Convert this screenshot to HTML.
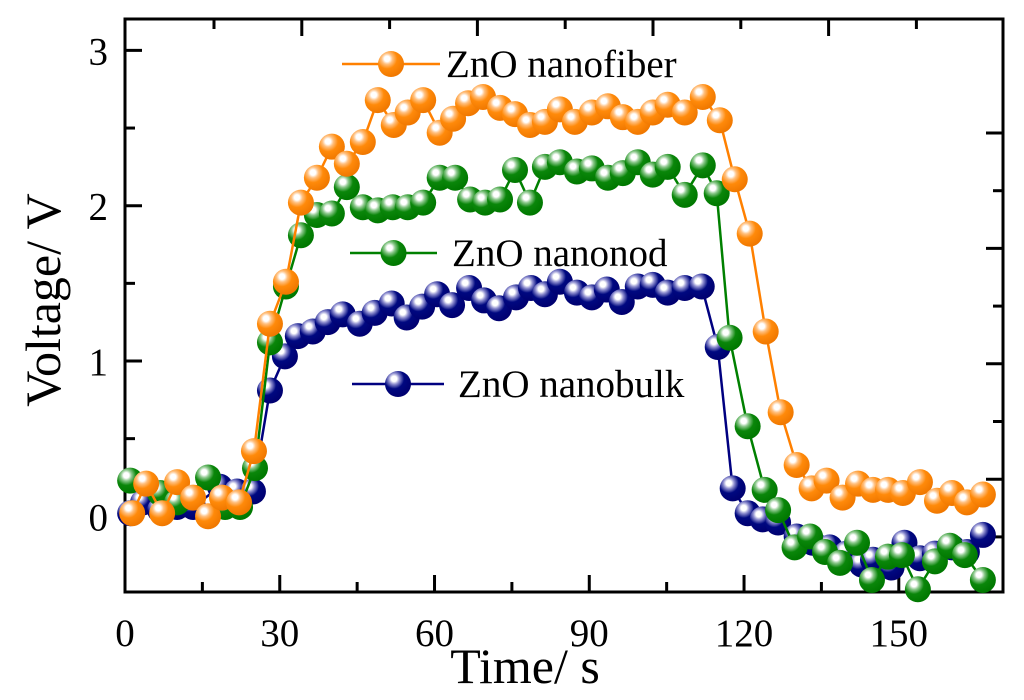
<!DOCTYPE html>
<html><head><meta charset="utf-8"><style>
html,body{margin:0;padding:0;background:#fff;}
svg{display:block;font-family:"Liberation Serif",serif;}
</style></head><body>
<svg id="chart" width="1024" height="700" viewBox="0 0 1024 700">
<defs>
<radialGradient id="gO" cx="0.35" cy="0.3" r="0.7"><stop offset="0" stop-color="#fff"/><stop offset="0.15" stop-color="#fff"/><stop offset="0.3" stop-color="#ffc080"/><stop offset="0.55" stop-color="#ff8a0a"/><stop offset="1" stop-color="#f07800"/></radialGradient>
<radialGradient id="gG" cx="0.35" cy="0.3" r="0.7"><stop offset="0" stop-color="#fff"/><stop offset="0.15" stop-color="#fff"/><stop offset="0.3" stop-color="#8cc88c"/><stop offset="0.55" stop-color="#0a860a"/><stop offset="1" stop-color="#007800"/></radialGradient>
<radialGradient id="gB" cx="0.35" cy="0.3" r="0.7"><stop offset="0" stop-color="#fff"/><stop offset="0.15" stop-color="#fff"/><stop offset="0.3" stop-color="#9090d0"/><stop offset="0.55" stop-color="#000880"/><stop offset="1" stop-color="#000070"/></radialGradient>
</defs>
</svg>
<script>
const xTicks = [0, 30, 60, 90, 120, 150];
const yTicks = [0, 1, 2, 3];
const seriesNames = ["ZnO nanobulk", "ZnO nanonod", "ZnO nanofiber"];
const bulkT = [1.0,3.5,6.8,10.1,13.2,18.4,21.7,24.8,28.1,31.0,33.5,36.4,39.3,42.2,45.5,48.4,51.7,54.6,57.6,60.5,63.4,66.7,69.6,72.5,75.8,78.7,81.4,84.3,87.6,90.5,93.4,96.3,99.4,102.3,105.2,108.5,111.8,114.9,117.8,120.7,123.6,126.6,130.2,133.3,136.6,139.9,142.8,145.0,148.6,151.1,154.1,157.0,160.3,163.2,166.3];
const bulkV = [0.02,0.09,0.04,0.06,0.06,0.19,0.16,0.16,0.81,1.03,1.16,1.19,1.25,1.30,1.24,1.31,1.37,1.28,1.35,1.43,1.36,1.47,1.39,1.34,1.41,1.47,1.43,1.51,1.44,1.41,1.46,1.38,1.48,1.49,1.44,1.47,1.48,1.09,0.18,0.02,-0.02,-0.04,-0.13,-0.17,-0.20,-0.24,-0.31,-0.28,-0.33,-0.17,-0.27,-0.24,-0.20,-0.23,-0.12];
const rodT = [1.0,6.8,10.1,16.1,19.4,22.3,25.2,28.1,31.2,34.1,37.2,40.1,43.0,46.1,49.0,51.9,54.8,57.8,61.0,64.0,66.9,69.8,72.7,75.6,78.5,81.4,84.3,87.6,90.5,93.6,96.5,99.4,102.3,105.2,108.5,112.0,114.7,117.2,120.7,124.0,126.6,129.8,132.8,135.7,138.6,141.9,144.8,147.9,150.6,153.7,157.0,159.9,162.8,166.3];
const rodV = [0.23,0.15,0.09,0.25,0.06,0.06,0.31,1.12,1.48,1.81,1.94,1.95,2.12,1.99,1.97,1.99,1.99,2.02,2.18,2.18,2.04,2.02,2.04,2.23,2.02,2.25,2.28,2.22,2.24,2.18,2.21,2.28,2.20,2.25,2.07,2.26,2.08,1.15,0.58,0.17,0.04,-0.20,-0.13,-0.23,-0.30,-0.17,-0.41,-0.26,-0.25,-0.47,-0.29,-0.19,-0.25,-0.41];
const fiberT = [1.4,4.1,7.2,10.1,13.2,16.1,18.8,22.1,25.0,28.1,31.2,34.1,37.2,40.1,43.0,46.1,49.0,52.1,54.8,57.8,61.0,63.6,66.5,69.4,72.7,75.6,78.5,81.4,84.3,87.2,90.5,93.6,96.5,99.4,102.3,105.2,108.5,112.0,115.3,118.2,121.1,124.2,127.1,130.2,133.1,136.0,139.1,142.1,145.0,147.9,150.8,154.1,157.4,160.3,163.2,166.3];
const fiberV = [0.02,0.21,0.02,0.22,0.12,0.0,0.12,0.09,0.42,1.24,1.51,2.02,2.18,2.38,2.27,2.41,2.68,2.52,2.60,2.68,2.47,2.56,2.66,2.70,2.63,2.59,2.52,2.54,2.62,2.54,2.60,2.64,2.57,2.54,2.60,2.65,2.60,2.70,2.55,2.17,1.82,1.19,0.67,0.33,0.18,0.23,0.12,0.21,0.17,0.17,0.15,0.22,0.10,0.15,0.09,0.14];

const NS = "http://www.w3.org/2000/svg";
const svg = document.getElementById("chart");
const L = 125, R = 1003, T = 19, B = 592;
const xMin = 0, xMax = 170.2;
function sx(t){ return L + (t - xMin) / (xMax - xMin) * (R - L); }
function sy(v){ return 516.3 - v * 155.3; }
function mk(tag, attrs, parent){ const e = document.createElementNS(NS, tag); for (const k in attrs) e.setAttribute(k, attrs[k]); (parent || svg).appendChild(e); return e; }

const axes = mk("g", {});


const tk = mk("g", {stroke:"#000","stroke-width":3}, axes);
xTicks.forEach(t => {
  mk("line", {x1:sx(t), y1:B, x2:sx(t), y2:B-17}, tk);
  mk("line", {x1:sx(t+15), y1:B, x2:sx(t+15), y2:B-10}, tk);
  const lb = mk("text", {x:sx(t), y:646, "text-anchor":"middle", "font-size":39}, axes);
  lb.textContent = t;
  
  
});
yTicks.forEach(v => {
  mk("line", {x1:L, y1:sy(v), x2:L+17, y2:sy(v)}, tk);
  if (v < 3) mk("line", {x1:L, y1:sy(v+0.5), x2:L+10, y2:sy(v+0.5)}, tk);
  const lb = mk("text", {x:108, y:sy(v)+14, "text-anchor":"end", "font-size":39}, axes);
  lb.textContent = v;
  
  
});
for (let i = 0; i < 9; i++) { const x = 214 + i * 87.8; mk("line", {x1:x, y1:T, x2:x, y2:T + (i % 2 ? 17 : 10)}, tk); }
for (let i = 0; i < 8; i++) { const y = 133 + i * 57.7; mk("line", {x1:R, y1:y, x2:R - (i % 2 ? 10 : 17), y2:y}, tk); }
mk("rect", {x:L, y:T, width:R-L, height:B-T, fill:"none", stroke:"#000", "stroke-width":3}, axes);

const yt = mk("text", {x:0, y:0, transform:"translate(60,300) rotate(-90)", "text-anchor":"middle", "font-size":50}, axes);
yt.textContent = "Voltage/ V";


const xt = mk("text", {x:525, y:683, "text-anchor":"middle", "font-size":50}, axes);
xt.textContent = "Time/ s";



function drawSeries(ts, vs, color, grad, name){
  const g = mk("g", {});
  
  
  const pts = ts.map((t,i) => sx(t) + "," + sy(vs[i])).join(" ");
  const pl = mk("polyline", {points:pts, fill:"none", stroke:color, "stroke-width":2.5}, g);
  
  
  ts.forEach((t,i) => {
    const c = mk("circle", {cx:sx(t), cy:sy(vs[i]), r:13, fill:"url(#" + grad + ")"}, g);
    
    
  });
}
drawSeries(bulkT, bulkV, "#000080", "gB", "nanobulk-series");
drawSeries(rodT, rodV, "#008000", "gG", "nanonod-series");
drawSeries(fiberT, fiberV, "#ff8000", "gO", "nanofiber-series");

function legend(x1, x2, y, color, grad, label, tx, name){
  const g = mk("g", {});
  
  
  mk("line", {x1:x1, y1:y, x2:x2, y2:y, stroke:color, "stroke-width":2.5}, g);
  mk("circle", {cx:(x1+x2)/2, cy:y, r:13, fill:"url(#" + grad + ")"}, g);
  const t = mk("text", {x:tx, y:y+13, "font-size":39}, g);
  t.textContent = label;
}
legend(342, 440, 64, "#ff8000", "gO", seriesNames[2], 446, "legend-entry-nanofiber");
legend(350, 437, 253, "#008000", "gG", seriesNames[1], 452, "legend-entry-nanonod");
legend(352, 444, 384, "#000080", "gB", seriesNames[0], 458, "legend-entry-nanobulk");
</script>
</body></html>
